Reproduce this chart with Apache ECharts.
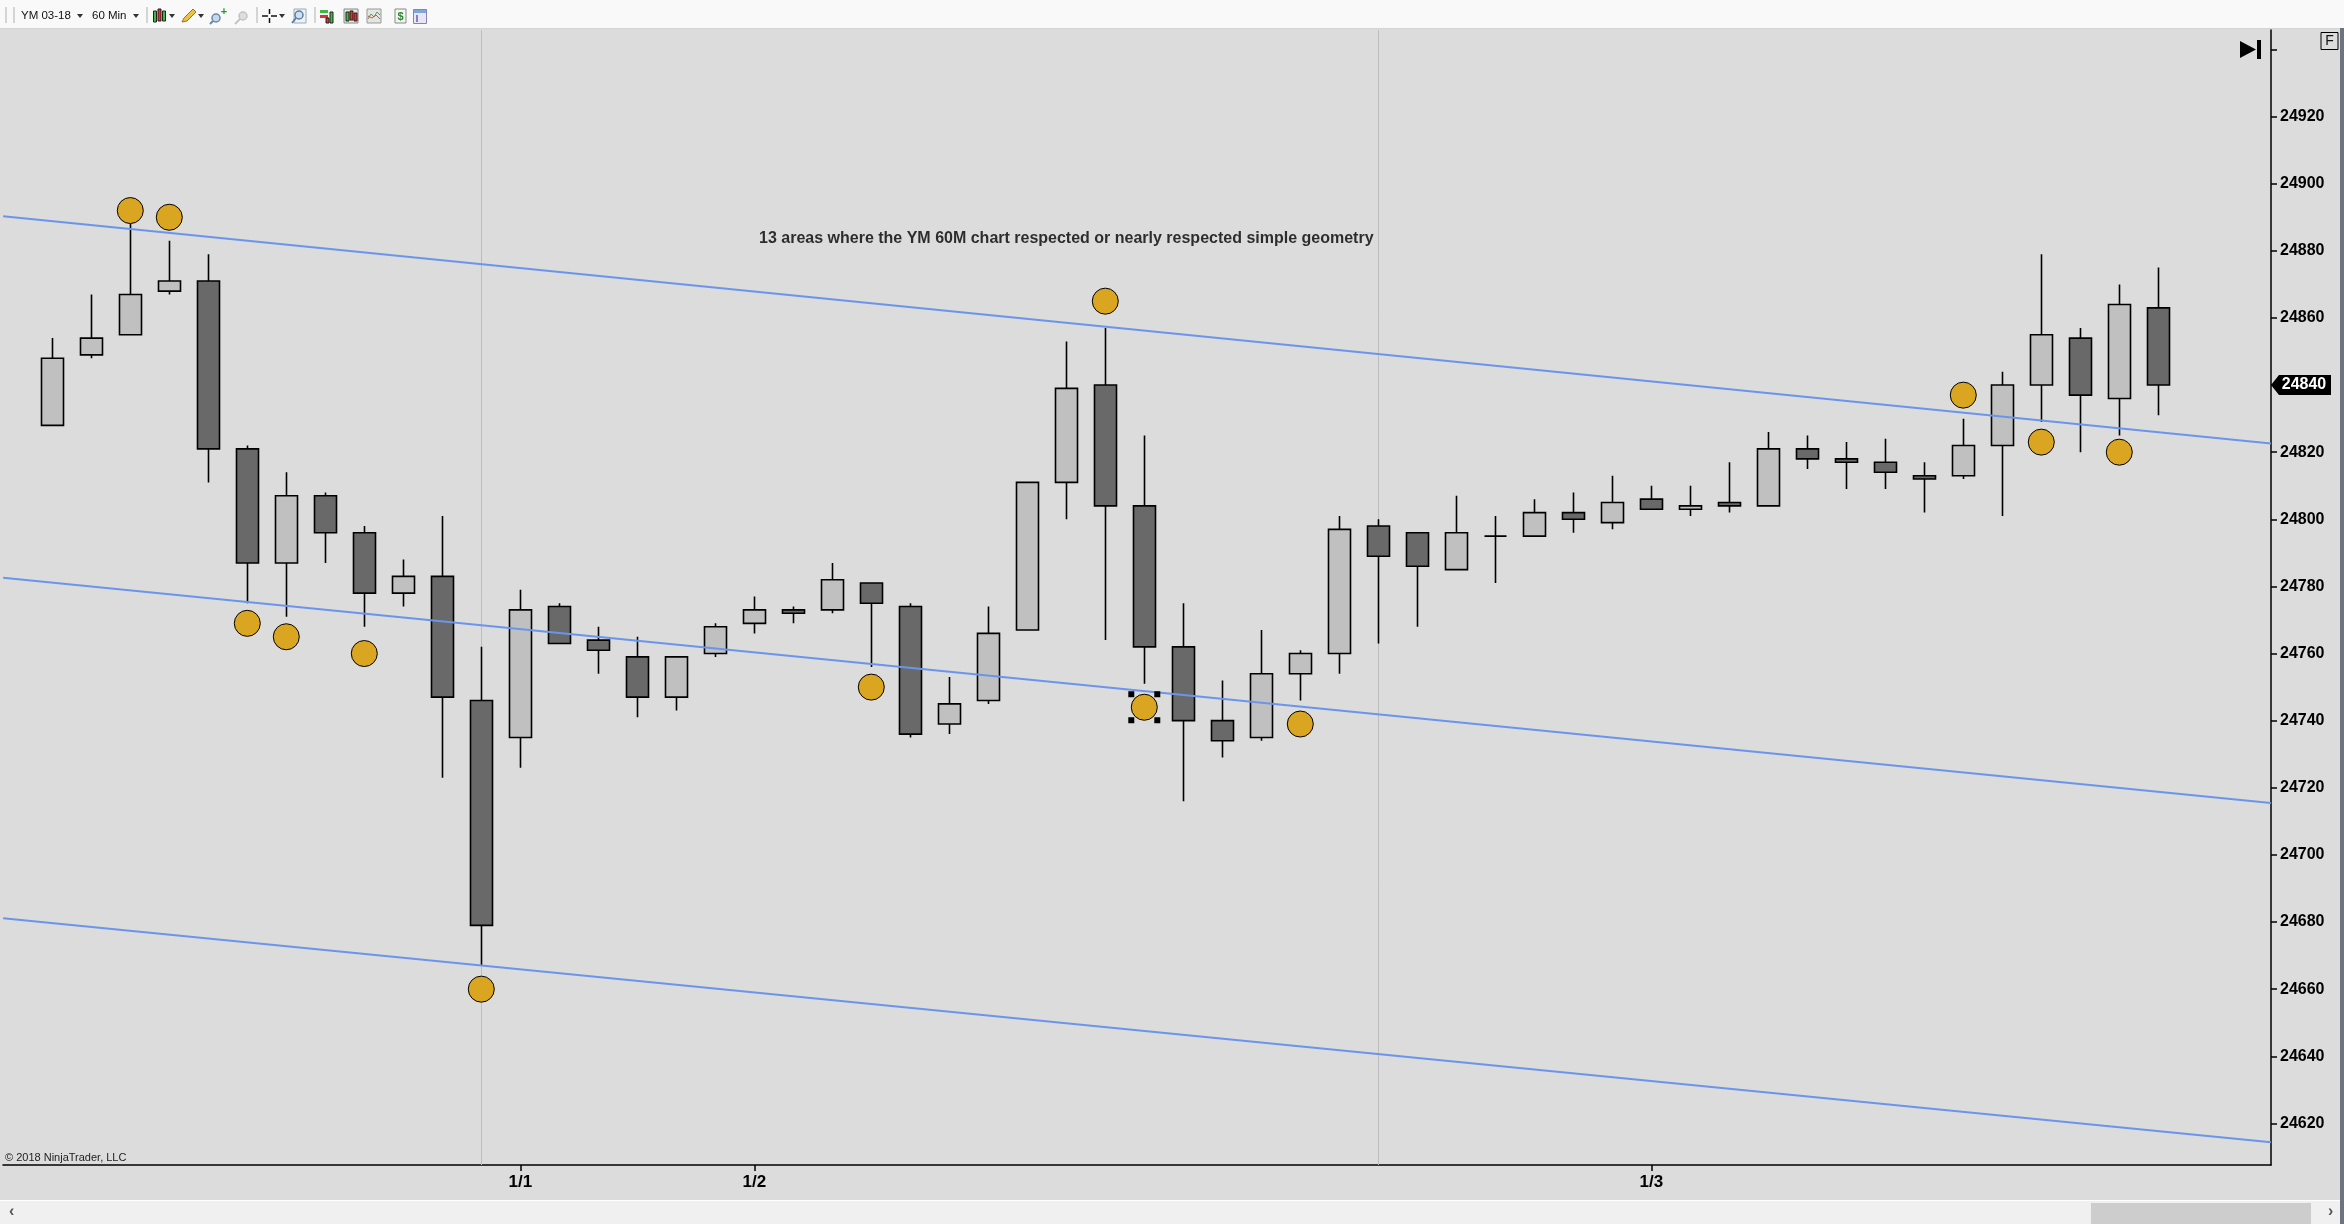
<!DOCTYPE html>
<html>
<head>
<meta charset="utf-8">
<title>YM 03-18 60 Min</title>
<script src="https://cdn.jsdelivr.net/npm/echarts@6/dist/echarts.min.js"></script>
<style>
	html, body { margin: 0; padding: 0; background: #dcdcdc; }
	#main { width: 2344px; height: 1224px; }
</style>
</head>
<body>
<div id="main"></div>
<script>
// 60 min bars, index 0..54
var opens  = [24828, 24849, 24855, 24868, 24871, 24821, 24787, 24807, 24796, 24778,
              24783, 24746, 24735, 24774, 24764, 24759, 24747, 24760, 24769, 24773,
              24773, 24781, 24774, 24739, 24746, 24767, 24811, 24840, 24804, 24762,
              24740, 24735, 24754, 24760, 24798, 24796, 24785, 24795, 24795, 24802,
              24799, 24806, 24803, 24805, 24804, 24821, 24818, 24817, 24813, 24813,
              24822, 24840, 24854, 24836, 24863];
var closes = [24848, 24854, 24867, 24871, 24821, 24787, 24807, 24796, 24778, 24783,
              24747, 24679, 24773, 24763, 24761, 24747, 24759, 24768, 24773, 24772,
              24782, 24775, 24736, 24745, 24766, 24811, 24839, 24804, 24762, 24740,
              24734, 24754, 24760, 24797, 24789, 24786, 24796, 24795, 24802, 24800,
              24805, 24803, 24804, 24804, 24821, 24818, 24817, 24814, 24812, 24822,
              24840, 24855, 24837, 24864, 24840];
var lows   = [24828, 24848, 24855, 24867, 24811, 24775, 24771, 24787, 24768, 24774,
              24723, 24667, 24726, 24763, 24754, 24741, 24743, 24759, 24766, 24769,
              24772, 24756, 24735, 24736, 24745, 24767, 24800, 24764, 24751, 24716,
              24729, 24734, 24746, 24754, 24763, 24768, 24785, 24781, 24795, 24796,
              24797, 24803, 24801, 24802, 24804, 24815, 24809, 24809, 24802, 24812,
              24801, 24829, 24820, 24825, 24831];
var highs  = [24854, 24867, 24888, 24883, 24879, 24822, 24814, 24808, 24798, 24788,
              24801, 24762, 24779, 24775, 24768, 24765, 24759, 24769, 24777, 24774,
              24787, 24781, 24775, 24753, 24774, 24811, 24853, 24857, 24825, 24775,
              24752, 24767, 24761, 24801, 24800, 24796, 24807, 24801, 24806, 24808,
              24813, 24810, 24810, 24817, 24826, 24825, 24823, 24824, 24817, 24830,
              24844, 24879, 24857, 24870, 24875];

// the 13 orange dots
var dotBars   = [2, 3, 5, 6, 8, 11, 21, 27, 28, 32, 49, 51, 53];
var dotPrices = [24892, 24890, 24769, 24765, 24760, 24660, 24750, 24865, 24744, 24739, 24837, 24823, 24820];
var selectedDot = 8; // position in dotBars of the selected dot (bar 28)

// channel lines, value at left edge and right edge
var lineBars = [-1.26, 56.89];
var topLine  = [24890.3, 24822.6];
var midLine  = [24782.6, 24715.5];
var lowLine  = [24681.1, 24614.4];

// axes
var dateBars    = [12, 18, 41];
var dateLabels  = ['1/1', '1/2', '1/3'];
var sessionBars = [11, 34];
var priceTicks  = [24620, 24640, 24660, 24680, 24700, 24720, 24740, 24760, 24780,
                   24800, 24820, 24840, 24860, 24880, 24900, 24920, 24940];
var priceLabels = [24620, 24640, 24660, 24680, 24700, 24720, 24740, 24760, 24780,
                   24800, 24820, 24840, 24860, 24880, 24900, 24920];
var lastPrice = 24840;

// text note on the chart
var noteBar = 26;
var notePrice = 24883.5;
var noteText = '13 areas where the YM 60M chart respected or nearly respected simple geometry';

var plain = "'Liberation Sans', Arial, sans-serif";

var xMin = -1.264, xMax = 56.89;

var myChart = echarts.init(document.getElementById('main'));

// build series data
var candleData = [];
for (var i = 0; i < opens.length; i++) {
	candleData.push([i, opens[i], closes[i], lows[i], highs[i]]);
}
var dotData = [];
for (var j = 0; j < dotBars.length; j++) {
	dotData.push([dotBars[j], dotPrices[j]]);
}
// selection handles round the selected dot
var handleData = [];
var offs = [[-13, -13], [13, -13], [-13, 13], [13, 13]];
for (var k = 0; k < offs.length; k++) {
	handleData.push({
		value: [dotBars[selectedDot], dotPrices[selectedDot]],
		symbolOffset: offs[k]
	});
}

function channel(vals) {
	return {
		type: 'line',
		data: [[lineBars[0], vals[0]], [lineBars[1], vals[1]]],
		symbol: 'none',
		silent: true,
		z: 3,
		lineStyle: { color: '#6b95ea', width: 2 }
	};
}

// toolbar helpers
function drop(x) {
	return { type: 'polygon', shape: { points: [[x - 3, 14], [x + 3, 14], [x, 18]] }, style: { fill: '#333' } };
}
function sep(x) {
	return { type: 'line', shape: { x1: x, y1: 7, x2: x, y2: 23 }, style: { stroke: '#b0b0b0', lineWidth: 1 } };
}
function box(x, y, w, h, fill, stroke) {
	return { type: 'rect', shape: { x: x, y: y, width: w, height: h }, style: { fill: fill, stroke: stroke || null, lineWidth: 1 } };
}

var graphics = [
	// toolbar
	box(0, 0, 2344, 28, '#f9f9f9'),
	{ type: 'line', shape: { x1: 0, y1: 28.5, x2: 2344, y2: 28.5 }, style: { stroke: '#d4d4d4', lineWidth: 1 } },
	sep(6), sep(14),
	{ type: 'text', style: { text: 'YM 03-18', x: 21, y: 16, font: '11.5px ' + plain, fill: '#111', verticalAlign: 'middle' } },
	drop(80),
	{ type: 'text', style: { text: '60 Min', x: 92, y: 16, font: '11.5px ' + plain, fill: '#111', verticalAlign: 'middle' } },
	drop(136),
	sep(147),
	box(153.5, 11, 3, 11, '#3fb83f', '#222'), box(158, 9, 3, 12, '#d33', '#222'), box(162.5, 11, 3, 10, '#3fb83f', '#222'),
	drop(172),
	{ type: 'polygon', shape: { points: [[182, 22], [184, 18], [193, 9], [196, 12], [187, 21]] }, style: { fill: '#f0c040', stroke: '#a07020', lineWidth: 1 } },
	drop(201),
	{ type: 'circle', shape: { cx: 216, cy: 18, r: 4 }, style: { fill: '#c8d8ea', stroke: '#6a88aa', lineWidth: 1.5 } },
	{ type: 'line', shape: { x1: 213, y1: 21, x2: 210, y2: 24 }, style: { stroke: '#6a88aa', lineWidth: 2 } },
	{ type: 'text', style: { text: '+', x: 224, y: 12, font: 'bold 11px ' + plain, fill: '#2a9a2a', align: 'center', verticalAlign: 'middle' } },
	{ type: 'circle', shape: { cx: 243, cy: 16, r: 4 }, style: { fill: '#dedede', stroke: '#c4c4c4', lineWidth: 1.5 } },
	{ type: 'line', shape: { x1: 240, y1: 19, x2: 235, y2: 24 }, style: { stroke: '#c4c4c4', lineWidth: 2 } },
	sep(257),
	{ type: 'line', shape: { x1: 262, y1: 16, x2: 268, y2: 16 }, style: { stroke: '#111', lineWidth: 1.5 } },
	{ type: 'line', shape: { x1: 271, y1: 16, x2: 277, y2: 16 }, style: { stroke: '#111', lineWidth: 1.5 } },
	{ type: 'line', shape: { x1: 269.5, y1: 9, x2: 269.5, y2: 14 }, style: { stroke: '#111', lineWidth: 1.5 } },
	{ type: 'line', shape: { x1: 269.5, y1: 18, x2: 269.5, y2: 23 }, style: { stroke: '#111', lineWidth: 1.5 } },
	drop(282),
	box(294, 9, 12, 14, '#eef2f7', '#9aa8b8'),
	{ type: 'circle', shape: { cx: 299, cy: 15, r: 4 }, style: { fill: '#cfe0f0', stroke: '#5a7ea8', lineWidth: 1.5 } },
	{ type: 'line', shape: { x1: 296, y1: 18, x2: 292, y2: 23 }, style: { stroke: '#5a7ea8', lineWidth: 2 } },
	sep(315),
	box(320, 10, 8, 3, '#3fb83f'), box(320, 15, 8, 3, '#d33'), box(330, 12, 3, 11, '#3fb83f', '#222'), box(326, 18, 3, 5, '#d33', '#222'),
	box(344, 9, 14, 14, '#e6e6e6', '#888'),
	box(346, 12, 3, 9, '#3fb83f', '#222'), box(350, 11, 3, 9, '#d33', '#222'), box(354, 13, 3, 8, '#d33', '#222'),
	box(367, 9, 14, 14, '#e4e4e4', '#999'),
	{ type: 'polyline', shape: { points: [[368, 19], [371, 14], [374, 17], [377, 12], [380, 15]] }, style: { stroke: '#4aa34a', lineWidth: 1, fill: null } },
	{ type: 'polyline', shape: { points: [[368, 16], [372, 18], [376, 15], [380, 19]] }, style: { stroke: '#c55', lineWidth: 1, fill: null } },
	box(395, 9, 11, 14, '#f4f4f4', '#888'),
	{ type: 'text', style: { text: '$', x: 400.5, y: 16.5, font: 'bold 11px ' + plain, fill: '#2a8a2a', align: 'center', verticalAlign: 'middle' } },
	box(413.5, 9.5, 13, 14, '#e8e6f4', '#8a7fc0'),
	box(414, 10, 12, 3, '#7fa8d8'),
	box(416, 15, 2, 7, '#8a7fc0'),

	// right hand panel bits
	{ type: 'polygon', shape: { points: [[2240, 41], [2256, 49.5], [2240, 58]] }, style: { fill: '#000' } },
	box(2257, 40, 4, 19, '#000'),
	box(2321, 32.5, 17, 17, null, '#000'),
	{ type: 'text', style: { text: 'F', x: 2329.5, y: 41.5, font: '14px ' + plain, fill: '#111', align: 'center', verticalAlign: 'middle' } },
	box(2340, 28, 4, 1196, '#6d7480'),

	// copyright
	{ type: 'text', style: { text: '\u00a9 2018 NinjaTrader, LLC', x: 5, y: 1158, font: '11px ' + plain, fill: '#222', verticalAlign: 'middle' } },

	// scrollbar
	box(0, 1200, 2340, 1, '#ffffff'),
	box(0, 1201, 2340, 23, '#f0f0f0'),
	box(2091, 1203, 220, 21, '#cdcdcd'),
	{ type: 'text', style: { text: '\u2039', x: 9, y: 1212, font: 'bold 16px ' + plain, fill: '#555', verticalAlign: 'middle' } },
	{ type: 'text', style: { text: '\u203a', x: 2328, y: 1212, font: 'bold 16px ' + plain, fill: '#555', verticalAlign: 'middle' } }
];

var option = {
	backgroundColor: '#dcdcdc',
	animation: false,
	grid: { left: 3, right: 73, top: 30, bottom: 59, containLabel: false },
	xAxis: {
		type: 'value',
		min: xMin,
		max: xMax,
		splitLine: { show: false },
		axisLine: { show: true, onZero: false, lineStyle: { color: '#000', width: 1.5 } },
		axisTick: { show: true, customValues: dateBars, length: 6, lineStyle: { color: '#000', width: 1.5 } },
		axisLabel: {
			customValues: dateBars,
			margin: 9,
			color: '#000',
			fontFamily: plain,
			fontWeight: 'bold',
			fontSize: 17,
			formatter: function(v) {
				var n = dateBars.indexOf(Math.round(v));
				return n < 0 ? '' : dateLabels[n];
			}
		}
	},
	yAxis: {
		type: 'value',
		position: 'right',
		min: 24607.6,
		max: 24945.8,
		splitLine: { show: false },
		axisLine: { show: true, onZero: false, lineStyle: { color: '#000', width: 1.5 } },
		axisTick: { show: true, customValues: priceTicks, length: 6, lineStyle: { color: '#000', width: 1.5 } },
		axisLabel: {
			customValues: priceLabels,
			margin: 9,
			color: '#000',
			fontFamily: plain,
			fontWeight: 'bold',
			fontSize: 16,
			formatter: function(v) { return String(Math.round(v)); }
		}
	},
	graphic: { elements: graphics },
	series: [
		{
			// session break lines
			type: 'line',
			data: [],
			z: 1,
			silent: true,
			markLine: {
				z: 1,
				silent: true,
				symbol: ['none', 'none'],
				label: { show: false },
				lineStyle: { color: '#bdbdbd', width: 1, type: 'solid' },
				data: sessionBars.map(function(b) { return { xAxis: b }; })
			}
		},
		{
			type: 'candlestick',
			data: candleData,
			encode: { x: 0, y: [1, 2, 3, 4] },
			barWidth: 23,
			z: 2,
			itemStyle: {
				color: '#c0c0c0',
				color0: '#696969',
				borderColor: '#000',
				borderColor0: '#000',
				borderColorDoji: '#000',
				borderWidth: 1.6
			},
			markPoint: {
				silent: true,
				symbol: 'path://M0,10L8,0L60,0L60,20L8,20Z',
				symbolSize: [60, 20],
				symbolKeepAspect: false,
				symbolOffset: [30, 0],
				itemStyle: { color: '#000' },
				label: {
					show: true,
					position: 'inside',
					offset: [3, 0],
					formatter: String(lastPrice),
					color: '#fff',
					fontFamily: plain,
					fontWeight: 'bold',
					fontSize: 16
				},
				data: [{ coord: [xMax, lastPrice] }]
			}
		},
		channel(topLine),
		channel(midLine),
		channel(lowLine),
		{
			type: 'scatter',
			data: dotData,
			symbolSize: 26,
			z: 4,
			silent: true,
			itemStyle: { color: '#daa520', borderColor: '#000', borderWidth: 1, opacity: 1 }
		},
		{
			type: 'scatter',
			data: handleData,
			symbol: 'rect',
			symbolSize: 6,
			z: 5,
			silent: true,
			itemStyle: { color: '#000', opacity: 1 }
		},
		{
			type: 'scatter',
			data: [[noteBar, notePrice]],
			symbolSize: 0,
			z: 6,
			silent: true,
			label: {
				show: true,
				position: 'inside',
				formatter: noteText,
				color: '#000',
				fontFamily: plain,
				fontWeight: 'bold',
				fontSize: 16
			}
		}
	]
};

myChart.setOption(option);
</script>
</body>
</html>
